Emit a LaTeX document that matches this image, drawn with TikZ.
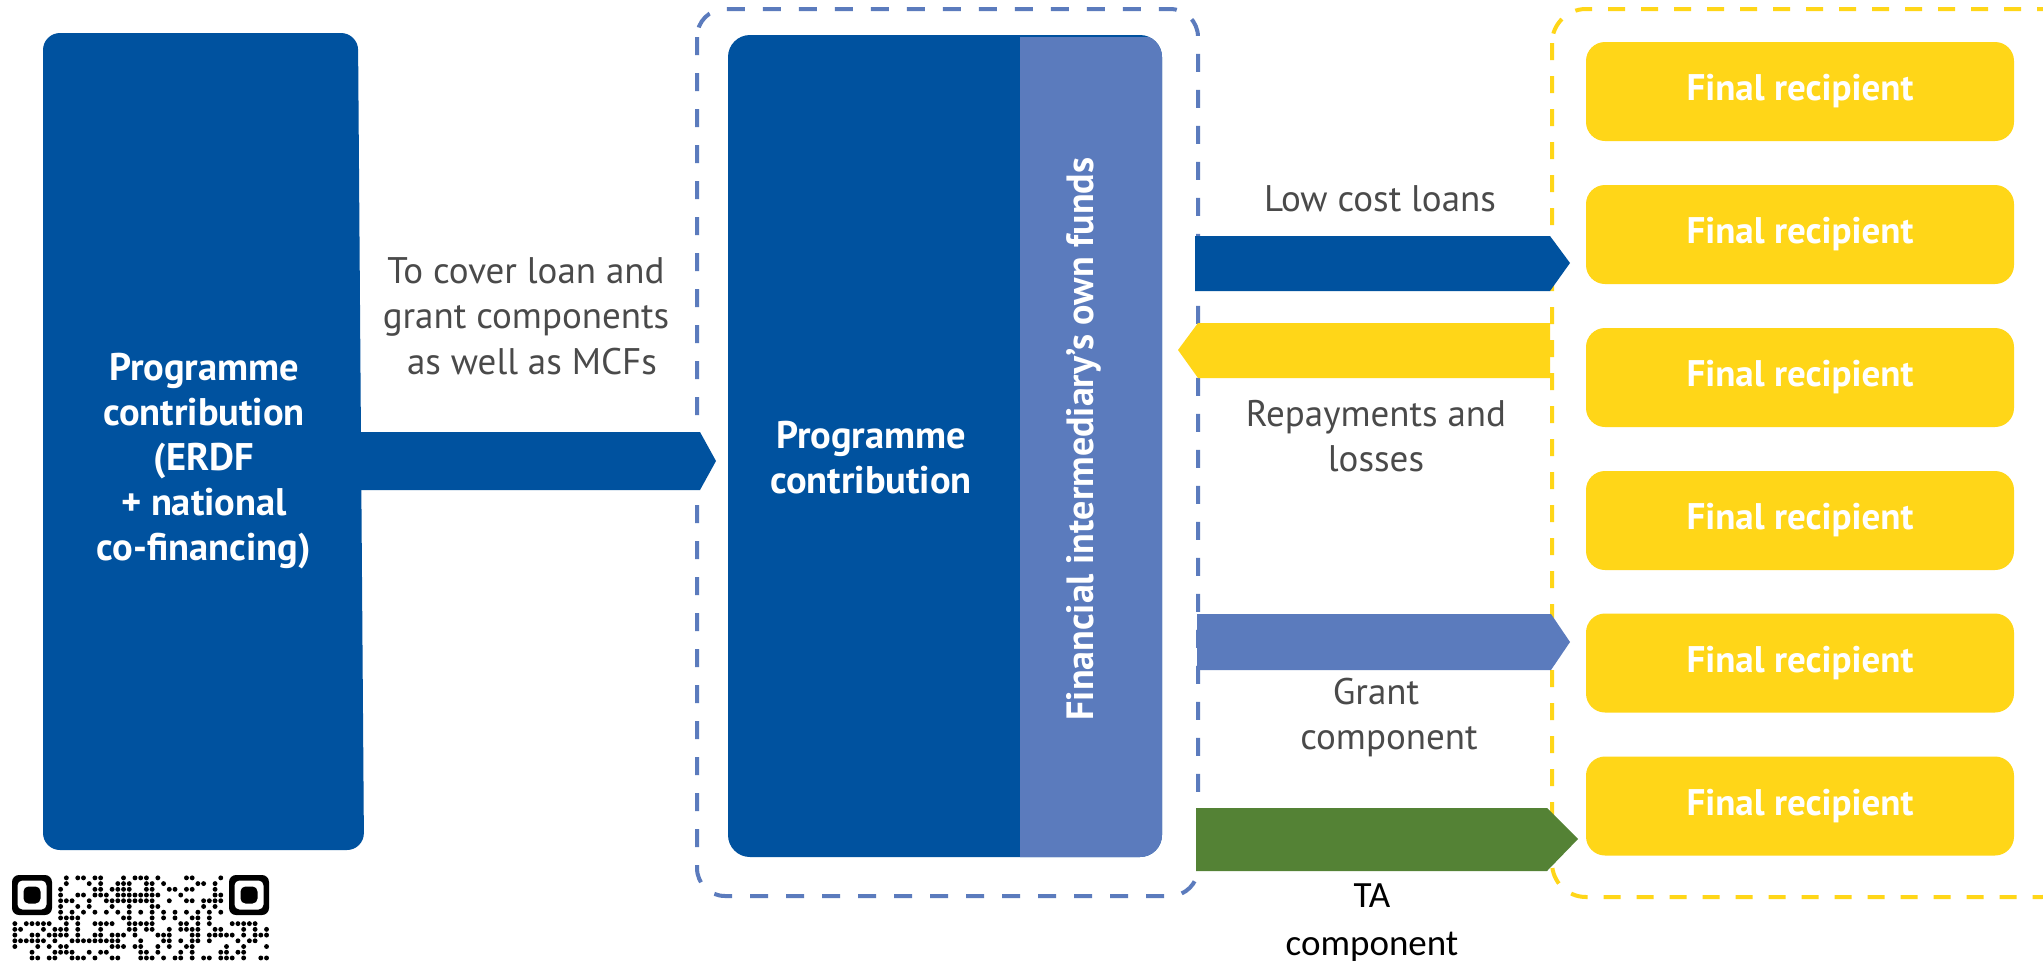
\documentclass[tikz,border=0pt]{standalone}
\usepackage{fontspec}
\setmainfont{PT Sans}
\newfontfamily\calfont{Carlito}
\definecolor{dkblue}{HTML}{00529F}
\definecolor{ltblue}{HTML}{5B7BBD}
\definecolor{yel}{HTML}{FFD618}
\definecolor{grn}{HTML}{548235}
\definecolor{txtgray}{HTML}{4A4A4A}
\tikzset{
  recipient/.style={fill=yel,rounded corners=19pt,minimum width=428pt,minimum height=99pt,inner sep=0pt,text=white,font=\fontsize{37}{44}\selectfont\bfseries},
  whitetxt/.style={text=white,align=center,inner sep=0pt,font=\fontsize{38.5}{45}\selectfont\bfseries},
  graytxt/.style={text=txtgray,align=center,inner sep=0pt,font=\fontsize{37}{45.5}\selectfont},
  dashblue/.style={draw=ltblue,line width=4pt,dash pattern=on 18pt off 18pt,rounded corners=28pt},
  dashyel/.style={draw=yel,line width=4pt,dash pattern=on 17pt off 16pt,rounded corners=34pt},
  qrdot/.style={fill=black}
}
\begin{document}
\begin{tikzpicture}[x=1pt,y=-1pt]
\path[use as bounding box,clip] (0,0) rectangle (2043,962);
\fill[white] (0,0) rectangle (2043,962);
% dashed groups
\draw[dashblue] (697,9) rectangle (1198,896);
\draw[dashyel] (1552,9) rectangle (2076,897);
% left box
\fill[dkblue,rounded corners=17pt] (43,33) -- (358,33) -- (364,850) -- (43,850) -- cycle;
\node[whitetxt] (leftlabel) at (204,461.5) {Programme\\contribution\\(ERDF\\+ national\\co-financing)};
% middle box
\node[fill=dkblue,rounded corners=22pt,minimum width=434pt,minimum height=822pt,inner sep=0pt] (mid) at (945,446) {};
\begin{scope}
\clip[rounded corners=22pt] (728,35) rectangle (1162,857);
\fill[ltblue] (1020,37) rectangle (1170,860);
\end{scope}
\node[whitetxt] (midlabel) at (871,458) {Programme\\contribution};
\node[whitetxt,rotate=90,font=\fontsize{38}{44}\selectfont\bfseries] (own) at (1084,439) {Financial intermediary’s own funds};
% recipients
\node[recipient] (r1) at (1800,91.5) {Final recipient};
\node[recipient] (r2) at (1800,234.5) {Final recipient};
\node[recipient] (r3) at (1800,377.5) {Final recipient};
\node[recipient] (r4) at (1800,520.5) {Final recipient};
\node[recipient] (r5) at (1800,663) {Final recipient};
\node[recipient] (r6) at (1800,806) {Final recipient};
% block arrows
\fill[dkblue] (358,432) -- (700,432) -- (716,461) -- (700,490) -- (358,490) -- cycle;
\fill[dkblue] (1195,236) -- (1550,236) -- (1570,263) -- (1550,291) -- (1195,291) -- cycle;
\fill[yel] (1550,323) -- (1198,323) -- (1178,350) -- (1198,378) -- (1550,378) -- cycle;
\fill[ltblue] (1197,614) -- (1551,614) -- (1570,642) -- (1551,670) -- (1197,670) -- cycle;
\fill[grn] (1196,808) -- (1547,808) -- (1578,839) -- (1547,871) -- (1196,871) -- cycle;
% labels
\node[graytxt] (cover) at (526,316) {To cover loan and\\grant components\\\hspace*{12pt}as well as MCFs};
\node[graytxt] (low) at (1380,199) {Low cost loans};
\node[graytxt] (rep) at (1376,436) {Repayments and\\losses};
\node[graytxt] (grant) at (1389,717.5) {\hspace*{-26pt}Grant\\component};
\node[text=black,align=center,inner sep=0pt,font=\calfont\fontsize{37}{48}\selectfont] (ta) at (1372,923) {TA\\component};
% QR finders
\foreach \fx in {12,229}{
  \fill[black,rounded corners=7pt] (\fx,875) rectangle ++(40,40);
  \fill[white,rounded corners=5pt] (\fx+5.5,880.5) rectangle ++(29,29);
  \fill[black,rounded corners=5pt] (\fx+11.5,886.5) rectangle ++(17,17);
}
% QR modules
\foreach \r/\cs in {
 0/{9,11,12,14,15,19,21,22,23,25,30,31,36},
 1/{9,13,15,18,19,20,23,24,26,32,33,35},
 2/{8,14,15,17,18,19,20,23,24,27,28,30,31,35},
 3/{8,11,12,14,15,16,18,19,20,21,22,23,24,25,29,35,36},
 4/{8,9,10,13,16,17,18,19,20,21,22,23,24,27,30,31,33,34,35,36},
 5/{8,11,13,17,20,24,25,33,35},
 6/{8,10,12,14,16,18,20,22,24,26,28,30,32,34,36},
 7/{8,9,10,11,19,20,24,26,28,31,32,34},
 8/{0,2,3,4,5,6,9,11,14,15,16,17,20,21,22,23,24,29,30,32,34,38,39,40,41,42},
 9/{0,1,5,7,8,9,11,15,20,21,23,24,27,29,30,31,32,35,36,40,42,44},
 10/{0,3,4,6,7,8,9,11,14,15,17,18,19,21,25,26,27,31,32,34,35,36,37,38,40,42,43,44},
 11/{0,1,2,3,4,5,7,10,11,12,13,14,15,16,17,18,22,26,27,29,31,32,34,39,41,42},
 12/{0,4,6,8,9,17,18,19,21,22,25,27,30,31,37,40,44},
 13/{3,7,8,9,10,13,15,16,22,23,25,29,31,36,37,39,40},
 14/{3,4,6,7,10,11,12,14,17,18,22,23,24,26,28,29,31,33,34,36,37,38,40,43,44}}{
  \foreach \c in \cs {
    \fill[qrdot] ({14.86+5.72*\c},{877.86+5.72*\r}) circle (2.45pt);
  }
}
\end{tikzpicture}
\end{document}
